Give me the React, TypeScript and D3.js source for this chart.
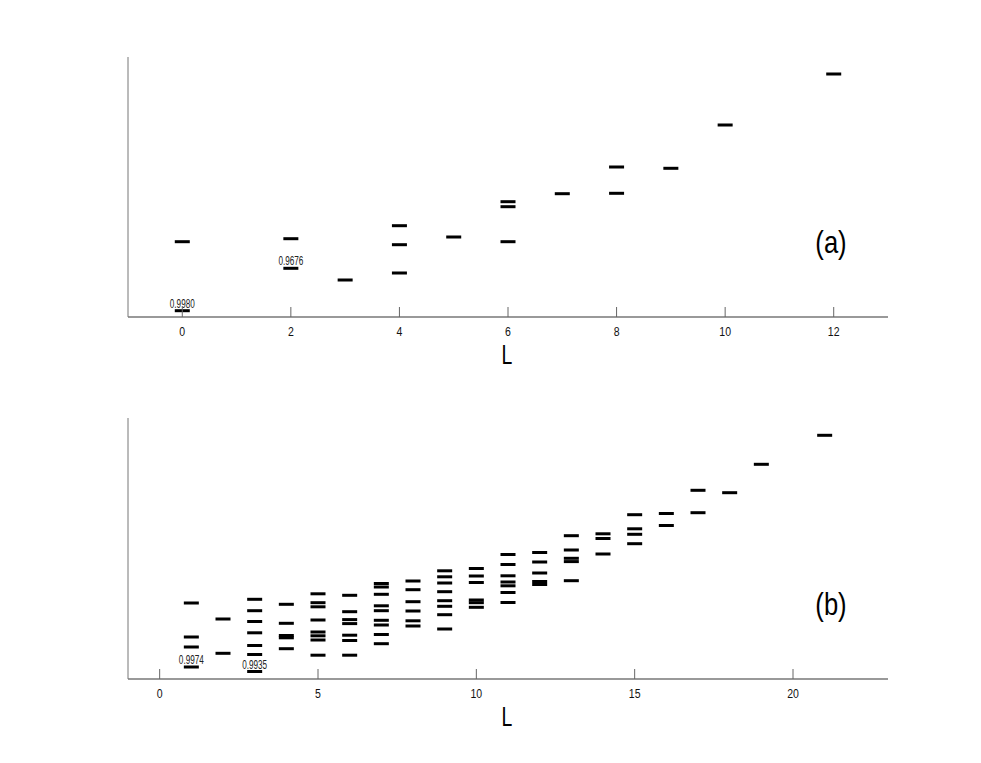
import React from "react";
import * as d3 from "d3";

// Panel (a): angular momentum L and level energy (arbitrary units)
const spinA = [0, 0, 2, 2, 3, 4, 4, 4, 5, 6, 6, 6, 7, 8, 8, 9, 10, 12];
const energyA = [0.753, 0.063, 0.783, 0.487, 0.37, 0.913, 0.723, 0.44, 0.8, 1.153, 1.103, 0.753, 1.233, 1.5, 1.237, 1.487, 1.92, 2.43];
const ticksA = [0, 2, 4, 6, 8, 10, 12];
const noteSpinA = [0, 2];
const noteEnergyA = [0.063, 0.487];
const noteTextA = ["0.9980", "0.9676"];

// Panel (b)
const spinB = [
  1, 1, 1, 1,
  2, 2,
  3, 3, 3, 3, 3, 3, 3,
  4, 4, 4, 4, 4,
  5, 5, 5, 5, 5, 5, 5, 5,
  6, 6, 6, 6, 6, 6, 6,
  7, 7, 7, 7, 7, 7, 7, 7, 7,
  8, 8, 8, 8, 8, 8,
  9, 9, 9, 9, 9, 9, 9, 9,
  10, 10, 10, 10, 10, 10,
  11, 11, 11, 11, 11, 11, 11,
  12, 12, 12, 12, 12,
  13, 13, 13, 13, 13,
  14, 14, 14,
  15, 15, 15, 15,
  16, 16,
  17, 17,
  18,
  19,
  21,
];
const energyB = [
  0.76, 0.42, 0.32, 0.12,
  0.6, 0.257,
  0.797, 0.683, 0.575, 0.462, 0.335, 0.245, 0.075,
  0.747, 0.557, 0.435, 0.412, 0.303,
  0.852, 0.763, 0.722, 0.59, 0.47, 0.432, 0.39, 0.238,
  0.837, 0.673, 0.594, 0.554, 0.438, 0.385, 0.238,
  0.955, 0.92, 0.847, 0.732, 0.683, 0.587, 0.54, 0.445, 0.353,
  0.98, 0.893, 0.773, 0.68, 0.582, 0.53,
  1.082, 1.022, 0.96, 0.873, 0.783, 0.727, 0.643, 0.5,
  1.105, 1.03, 0.965, 0.79, 0.763, 0.717,
  1.245, 1.145, 1.032, 0.97, 0.932, 0.865, 0.765,
  1.265, 1.17, 1.06, 0.975, 0.945,
  1.433, 1.29, 1.207, 1.174, 0.983,
  1.452, 1.405, 1.25,
  1.643, 1.502, 1.447, 1.353,
  1.655, 1.535,
  1.887, 1.663,
  1.863,
  2.147,
  2.437,
];
const ticksB = [0, 5, 10, 15, 20];
const noteSpinB = [1, 3];
const noteEnergyB = [0.12, 0.075];
const noteTextB = ["0.9974", "0.9935"];

const FONT = "'Liberation Sans', Arial, Helvetica, sans-serif";

function NText(props: { x: number; y: number; size: number; sx: number; fill?: string; children: React.ReactNode }) {
  return (
    <g transform={`translate(${props.x},${props.y}) scale(${props.sx},1)`}>
      <text x={0} y={0} textAnchor="middle" fontFamily={FONT} fontSize={props.size} fill={props.fill ?? "#000"}>
        {props.children}
      </text>
    </g>
  );
}

type PanelProps = {
  top: number;
  bottom: number;
  xDomain: [number, number];
  yDomain: [number, number];
  spins: number[];
  energies: number[];
  ticks: number[];
  noteSpins: number[];
  noteEnergies: number[];
  noteTexts: string[];
  tag: string;
};

function Panel(p: PanelProps) {
  const left = 128;
  const right = 888;
  const x = d3.scaleLinear().domain(p.xDomain).range([left, right]);
  const y = d3.scaleLinear().domain(p.yDomain).range([p.bottom, p.top]);
  const half = 7.5;
  return (
    <g>
      {p.spins.map((s, i) => (
        <rect
          key={i}
          x={x(s) - half}
          y={y(p.energies[i]) - 1.5}
          width={half * 2}
          height={3}
          fill="#000"
        />
      ))}
      {p.noteSpins.map((s, i) => (
        <NText key={"n" + i} x={x(s)} y={y(p.noteEnergies[i]) - 3} size={12} sx={0.68} fill="#222">
          {p.noteTexts[i]}
        </NText>
      ))}
      <line x1={left} x2={left} y1={p.top} y2={p.bottom} stroke="#777" strokeWidth={1} />
      <line x1={left} x2={right} y1={p.bottom} y2={p.bottom} stroke="#777" strokeWidth={1.3} />
      {p.ticks.map((t) => (
        <g key={"t" + t}>
          <line x1={x(t)} x2={x(t)} y1={p.bottom} y2={p.bottom - 10} stroke="#666" strokeWidth={1} />
          <NText x={x(t)} y={p.bottom + 18.5} size={13.5} sx={0.78} fill="#111">
            {t}
          </NText>
        </g>
      ))}
      <NText x={(left + right) / 2 - 1} y={p.bottom + 47} size={27} sx={0.72}>
        L
      </NText>
      <NText x={831} y={p.bottom - 64} size={32} sx={0.8}>
        {p.tag}
      </NText>
    </g>
  );
}

export default function App() {
  return (
    <svg
      width={981}
      height={763}
      style={{ position: "absolute", left: 0, top: 0, background: "#fff" }}
    >
      <rect x={0} y={0} width={981} height={763} fill="#fff" />
      <Panel
        top={57}
        bottom={317}
        xDomain={[-1, 13]}
        yDomain={[0, 2.6]}
        spins={spinA}
        energies={energyA}
        ticks={ticksA}
        noteSpins={noteSpinA}
        noteEnergies={noteEnergyA}
        noteTexts={noteTextA}
        tag="(a)"
      />
      <Panel
        top={418}
        bottom={679}
        xDomain={[-1, 23]}
        yDomain={[0, 2.61]}
        spins={spinB}
        energies={energyB}
        ticks={ticksB}
        noteSpins={noteSpinB}
        noteEnergies={noteEnergyB}
        noteTexts={noteTextB}
        tag="(b)"
      />
    </svg>
  );
}
